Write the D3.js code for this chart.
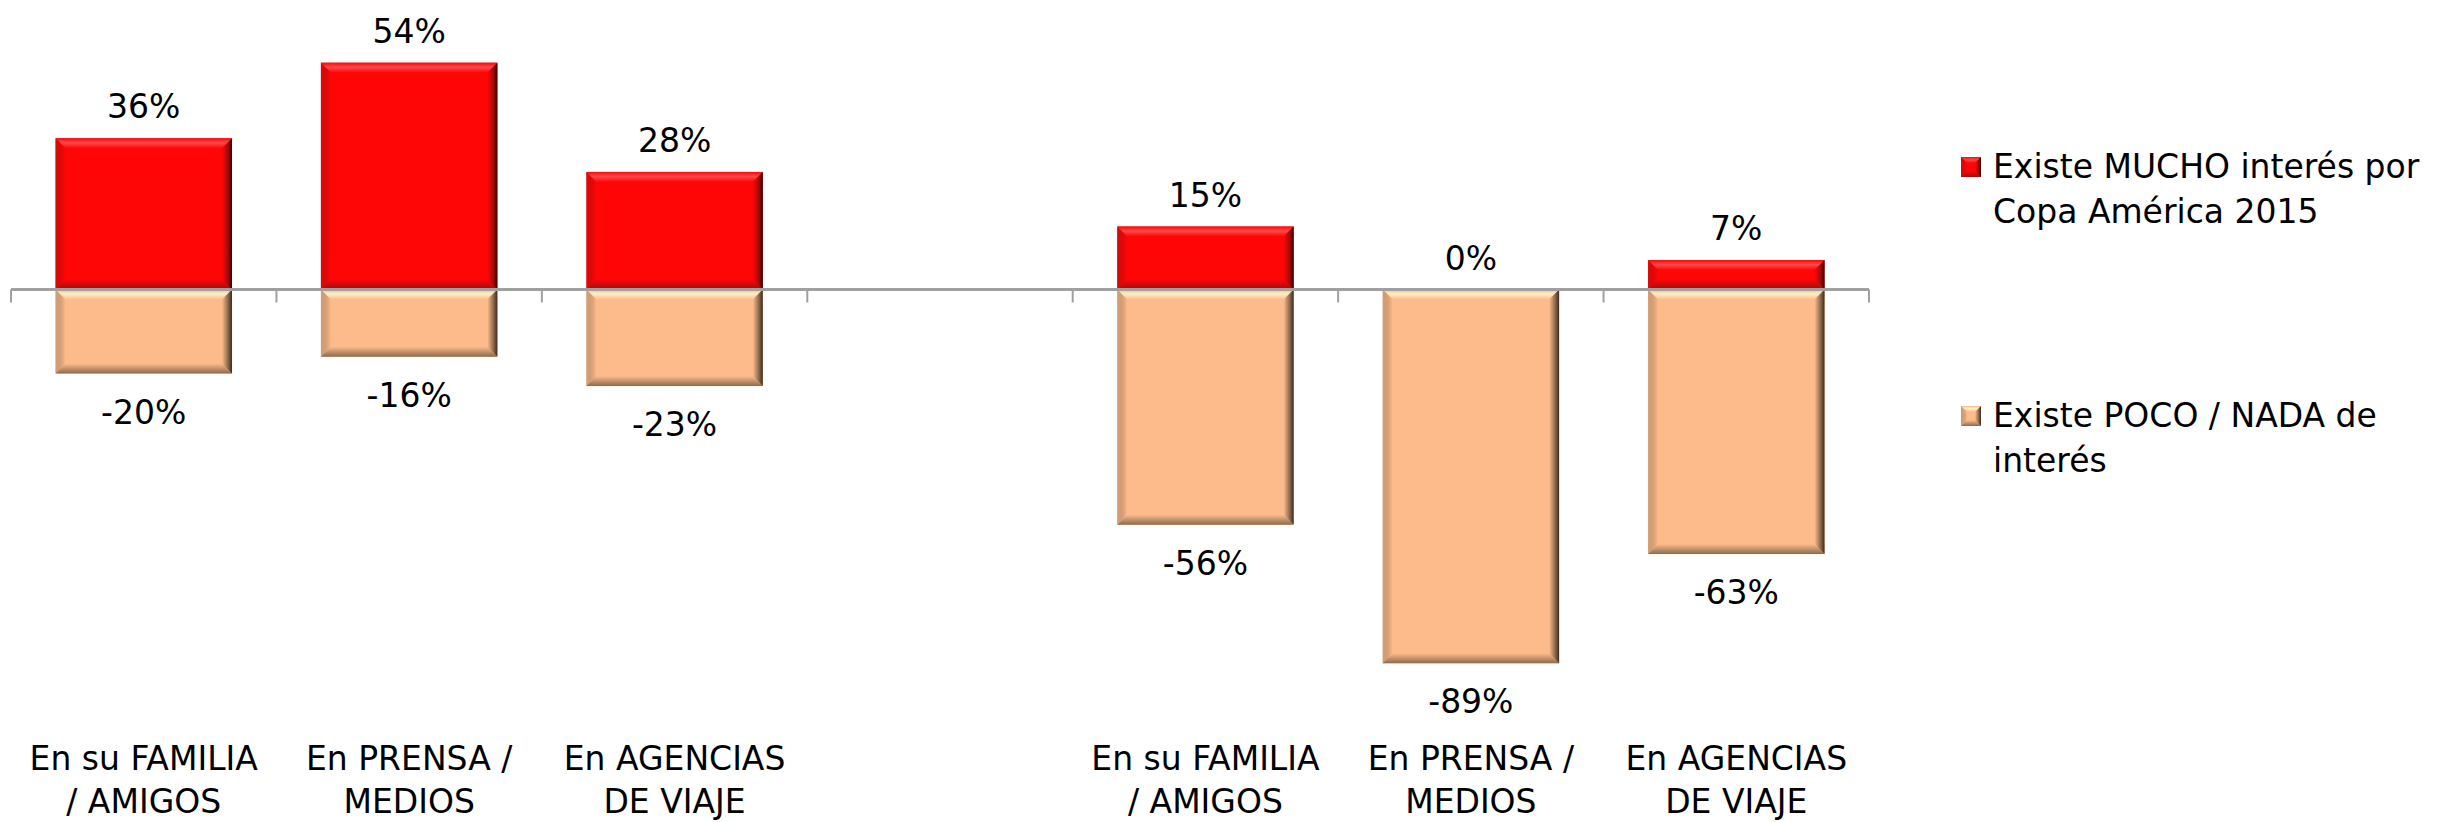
<!DOCTYPE html>
<html>
<head>
<meta charset="utf-8">
<script src="https://cdn.jsdelivr.net/npm/d3@7"></script>
<style>
  html, body { margin: 0; padding: 0; background: #fff; }
  svg { display: block; }
</style>
</head>
<body>
<div id="chart"></div>
<script>
// chart values
const categories = [
    ["En su FAMILIA", "/ AMIGOS"],
    ["En PRENSA /", "MEDIOS"],
    ["En AGENCIAS", "DE VIAJE"],
    [],
    ["En su FAMILIA", "/ AMIGOS"],
    ["En PRENSA /", "MEDIOS"],
    ["En AGENCIAS", "DE VIAJE"]
];
const mucho = [0.36, 0.54, 0.28, null, 0.15, 0.00, 0.07];
const poco = [-0.20, -0.16, -0.23, null, -0.56, -0.89, -0.63];
const seriesNames = [
    ["Existe MUCHO interés por", "Copa América 2015"],
    ["Existe POCO / NADA de", "interés"]
];

const width = 2460, height = 822;
const font = "'DejaVu Sans', sans-serif";
const fmt = d3.formatLocale({ decimal: ".", thousands: ",", grouping: [3], currency: ["", ""], minus: "-" }).format(".0%");

const palette = [
    { base: "#fe0606", light: "#ff4a4a", dark: "#a00c0c", edge: "#3a0000" },
    { base: "#fdbb8b", light: "#ffeec4", dark: "#8c6a4f", edge: "#3e2a1c" }
];

const svg = d3.select("#chart").append("svg")
    .attr("width", width)
    .attr("height", height)
    .style("font-family", font);

svg.append("rect").attr("width", width).attr("height", height).attr("fill", "#fff");

const x = d3.scaleBand()
    .domain(d3.range(categories.length))
    .range([11, 1869])
    .paddingInner(0.335)
    .paddingOuter(0.1675);

const y = d3.scaleLinear()
    .domain([-1, 0.6])
    .range([709.5, 37.5]);

// gradients for the bevel look
const defs = svg.append("defs");
palette.forEach((p, i) => {
    const top = defs.append("linearGradient").attr("id", `top${i}`)
        .attr("x1", 0).attr("y1", 0).attr("x2", 0).attr("y2", 1);
    top.append("stop").attr("offset", 0).attr("stop-color", p.base);
    top.append("stop").attr("offset", 0.45).attr("stop-color", p.light);
    top.append("stop").attr("offset", 1).attr("stop-color", p.base);

    const bot = defs.append("linearGradient").attr("id", `bot${i}`)
        .attr("x1", 0).attr("y1", 0).attr("x2", 0).attr("y2", 1);
    bot.append("stop").attr("offset", 0).attr("stop-color", p.base);
    bot.append("stop").attr("offset", 1).attr("stop-color", p.dark);

    const right = defs.append("linearGradient").attr("id", `right${i}`)
        .attr("x1", 0).attr("y1", 0).attr("x2", 1).attr("y2", 0);
    right.append("stop").attr("offset", 0).attr("stop-color", p.base);
    right.append("stop").attr("offset", 0.6).attr("stop-color", p.dark);
    right.append("stop").attr("offset", 1).attr("stop-color", p.edge);

    const left = defs.append("linearGradient").attr("id", `left${i}`)
        .attr("x1", 0).attr("y1", 0).attr("x2", 1).attr("y2", 0);
    left.append("stop").attr("offset", 0).attr("stop-color", p.dark).attr("stop-opacity", 0.35);
    left.append("stop").attr("offset", 1).attr("stop-color", p.base);
});

function bevelBox(g, x0, y0, x1, y1, ci, bv) {
    const b = Math.min(bv, (y1 - y0) / 2, (x1 - x0) / 2);
    g.append("rect")
        .attr("x", x0).attr("y", y0)
        .attr("width", x1 - x0).attr("height", y1 - y0)
        .attr("fill", palette[ci].base);
    if (b <= 0) return;
    const poly = (pts, fill) => g.append("path")
        .attr("d", "M" + pts.map(p => p.join(",")).join("L") + "Z")
        .attr("fill", fill);
    poly([[x0, y0], [x1, y0], [x1 - b, y0 + b], [x0 + b, y0 + b]], `url(#top${ci})`);
    poly([[x0, y1], [x1, y1], [x1 - b, y1 - b], [x0 + b, y1 - b]], `url(#bot${ci})`);
    poly([[x0, y0], [x0 + b, y0 + b], [x0 + b, y1 - b], [x0, y1]], `url(#left${ci})`);
    poly([[x1, y0], [x1 - b, y0 + b], [x1 - b, y1 - b], [x1, y1]], `url(#right${ci})`);
}

const bars = svg.append("g");
const labels = svg.append("g")
    .attr("text-anchor", "middle")
    .style("font-size", "33px")
    .attr("fill", "#000");

[mucho, poco].forEach((series, si) => {
    series.forEach((v, i) => {
        if (v === null) return;
        const x0 = x(i), x1 = x(i) + x.bandwidth();
        const ya = y(Math.max(0, v)), yb = y(Math.min(0, v));
        if (yb - ya > 0) bevelBox(bars.append("g"), x0, ya, x1, yb, si, 10);
        labels.append("text")
            .attr("x", x0 + x.bandwidth() / 2)
            .attr("y", v >= 0 && si === 0 ? ya - 20 : yb + 50)
            .text(fmt(v));
    });
});

// horizontal category axis at zero, drawn over the bars
const axis = svg.append("g")
    .attr("transform", `translate(0,${y(0)})`)
    .call(d3.axisBottom(x).tickSize(0).tickFormat(""));
axis.select(".domain").attr("stroke", "#a0a0a0").attr("stroke-width", 3)
    .attr("d", `M${x.range()[0]},0H${x.range()[1]}`);
const bounds = d3.range(categories.length + 1).map(i => x.range()[0] + i * x.step());
axis.selectAll(".bound").data(bounds).join("line")
    .attr("class", "bound")
    .attr("x1", d => d).attr("x2", d => d)
    .attr("y1", 0).attr("y2", 13)
    .attr("stroke", "#a0a0a0").attr("stroke-width", 2);

// category labels at the bottom
const cat = svg.append("g")
    .attr("text-anchor", "middle")
    .style("font-size", "33px");
categories.forEach((lines, i) => {
    const t = cat.append("text")
        .attr("x", x(i) + x.bandwidth() / 2)
        .attr("y", 770);
    lines.forEach((ln, k) => {
        t.append("tspan")
            .attr("x", x(i) + x.bandwidth() / 2)
            .attr("dy", k === 0 ? 0 : 43)
            .text(ln);
    });
});

// legend
const legendY = [178, 427];
const legend = svg.append("g").style("font-size", "33px");
seriesNames.forEach((lines, si) => {
    const g = legend.append("g").attr("transform", `translate(1961,${legendY[si]})`);
    bevelBox(g, 0, -21, 20, -1, si, 6);
    const t = g.append("text").attr("x", 32).attr("y", 0);
    lines.forEach((ln, k) => {
        t.append("tspan").attr("x", 32).attr("dy", k === 0 ? 0 : 45).text(ln);
    });
});
</script>
</body>
</html>
